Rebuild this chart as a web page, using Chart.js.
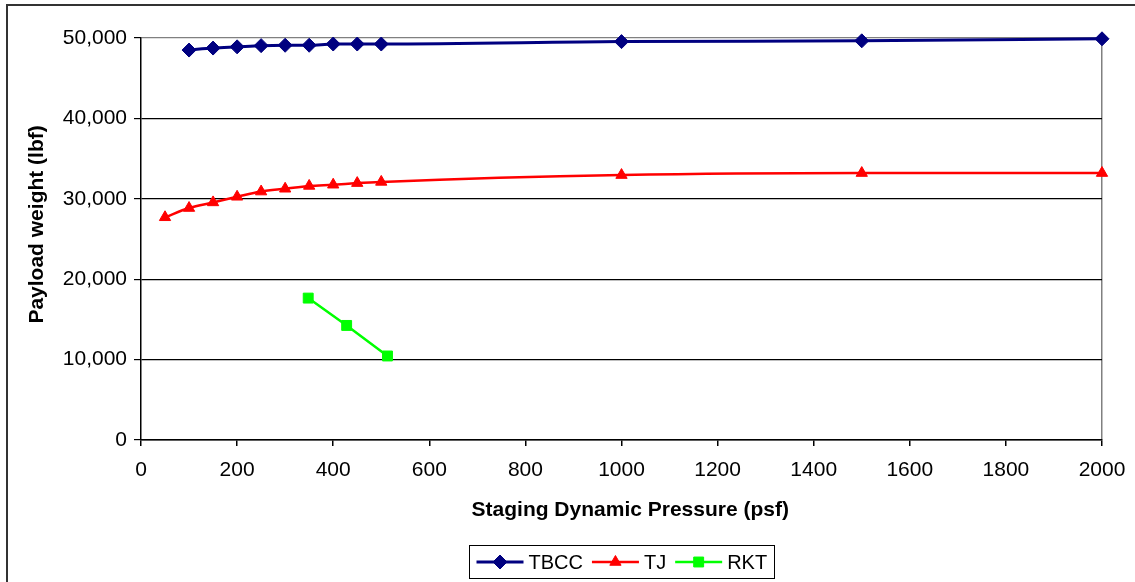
<!DOCTYPE html>
<html>
<head>
<meta charset="utf-8">
<script src="https://cdn.jsdelivr.net/npm/chart.js@4/dist/chart.umd.min.js"></script>
<style>
    html, body { margin: 0; padding: 0; background: #fff; }
    #wrap { position: relative; width: 1135px; height: 582px; }
</style>
</head>
<body>
<div id="wrap"><canvas id="payloadChart" width="1135" height="582"></canvas></div>
<script>
// Payload weight vs staging dynamic pressure
const tbccQ = [100, 150, 200, 250, 300, 350, 400, 450, 500, 1000, 1500, 2000];
const tbccW = [48500, 48750, 48900, 49050, 49100, 49100, 49250, 49250, 49250, 49550, 49650, 49900];

const tjQ = [50, 100, 150, 200, 250, 300, 350, 400, 450, 500, 1000, 1500, 2000];
const tjW = [27700, 28850, 29550, 30250, 30900, 31250, 31600, 31750, 31950, 32100, 32950, 33200, 33200];

const rktQ = [348, 428, 513];
const rktW = [17650, 14250, 10450];

const seriesNames = ['TBCC', 'TJ', 'RKT'];
const xTickValues = [0, 200, 400, 600, 800, 1000, 1200, 1400, 1600, 1800, 2000];
const yTickValues = [0, 10000, 20000, 30000, 40000, 50000];

const FONT = '"Liberation Sans", Arial, sans-serif';
Chart.defaults.font.family = FONT;
Chart.defaults.color = '#000';

const toPoints = (xs, ys) => xs.map((x, i) => ({ x, y: ys[i] }));

// outer frame of the chart object
const framePlugin = {
    id: 'frame',
    beforeDraw(chart) {
        const ctx = chart.ctx;
        ctx.save();
        ctx.fillStyle = '#fff';
        ctx.fillRect(0, 0, chart.width, chart.height);
        ctx.fillStyle = '#333';
        ctx.fillRect(6, 4, chart.width - 6, 2);
        ctx.fillRect(6, 4, 2, chart.height - 4);
        ctx.restore();
    }
};

// boxed legend under the axis title, line + marker per series
const boxLegend = {
    id: 'boxLegend',
    afterDraw(chart) {
        const ctx = chart.ctx;
        const area = chart.chartArea;
        ctx.save();
        ctx.font = '20px ' + FONT;
        const items = chart.data.datasets.map(ds => ({ ds, w: ctx.measureText(ds.label).width }));
        const lineLen = 47, gapText = 5, gapItem = 9, pad = 7;
        const total = pad * 2 + items.reduce((s, it) => s + lineLen + gapText + it.w, 0) + gapItem * (items.length - 1);
        const left = Math.round((area.left + area.right) / 2 - total / 2) + 0.5;
        const top = 545.5, h = 33;
        ctx.strokeStyle = '#000';
        ctx.lineWidth = 1;
        ctx.strokeRect(left, top, Math.round(total), h);

        let x = left + pad;
        const cy = top + h / 2;
        items.forEach(it => {
            const ds = it.ds;
            ctx.strokeStyle = ds.borderColor;
            ctx.lineWidth = ds.borderWidth;
            ctx.beginPath();
            ctx.moveTo(x, cy);
            ctx.lineTo(x + lineLen, cy);
            ctx.stroke();
            ctx.fillStyle = ds.pointBackgroundColor;
            ctx.strokeStyle = ds.pointBorderColor;
            ctx.lineWidth = 1;
            Chart.helpers.drawPoint(ctx, { pointStyle: ds.pointStyle, radius: ds.pointRadius, borderWidth: 1, rotation: 0 }, x + lineLen / 2, cy);
            ctx.fillStyle = '#000';
            ctx.textBaseline = 'middle';
            ctx.textAlign = 'left';
            ctx.fillText(ds.label, x + lineLen + gapText, cy + 1);
            x += lineLen + gapText + it.w + gapItem;
        });
        ctx.restore();
    }
};

new Chart(document.getElementById('payloadChart').getContext('2d'), {
    type: 'line',
    data: {
        datasets: [
            {
                label: seriesNames[0],
                data: toPoints(tbccQ, tbccW),
                borderColor: '#000080',
                backgroundColor: '#000080',
                borderWidth: 3,
                pointStyle: 'rectRot',
                pointRadius: 7,
                pointBackgroundColor: '#000080',
                pointBorderColor: '#000080',
                pointBorderWidth: 1,
                cubicInterpolationMode: 'monotone',
                fill: false,
                clip: false
            },
            {
                label: seriesNames[1],
                data: toPoints(tjQ, tjW),
                borderColor: '#ff0000',
                backgroundColor: '#ff0000',
                borderWidth: 2.5,
                pointStyle: 'triangle',
                pointRadius: 6.5,
                pointBackgroundColor: '#ff0000',
                pointBorderColor: '#ff0000',
                pointBorderWidth: 1,
                cubicInterpolationMode: 'monotone',
                fill: false,
                clip: false
            },
            {
                label: seriesNames[2],
                data: toPoints(rktQ, rktW),
                borderColor: '#00ff00',
                backgroundColor: '#00ff00',
                borderWidth: 2.5,
                pointStyle: 'rect',
                pointRadius: 7,
                pointBackgroundColor: '#00ff00',
                pointBorderColor: '#00ff00',
                pointBorderWidth: 1,
                tension: 0,
                fill: false,
                clip: false
            }
        ]
    },
    options: {
        responsive: false,
        animation: false,
        events: [],
        layout: { padding: { left: 0, top: 38, right: 33, bottom: 52 } },
        plugins: {
            legend: { display: false },
            tooltip: { enabled: false }
        },
        scales: {
            x: {
                type: 'linear',
                min: 0,
                max: 2000,
                afterBuildTicks: axis => { axis.ticks = xTickValues.map(v => ({ value: v })); },
                afterFit: scale => {
                    scale.height = 90;
                    scale.paddingLeft = 0;
                    scale.paddingRight = 0;
                },
                border: { color: '#000', width: 1.5 },
                grid: {
                    color: c => (c.tick && c.tick.value === 2000 ? '#808080' : 'rgba(0,0,0,0)'),
                    tickColor: '#000',
                    tickLength: 6,
                    lineWidth: 1.5
                },
                ticks: {
                    padding: 12,
                    font: { size: 21 },
                    callback: v => String(v)
                },
                title: {
                    display: true,
                    // leading spaces nudge the title right, as in the original
                    text: '   Staging Dynamic Pressure (psf)',
                    font: { size: 21, weight: 'bold' },
                    padding: { top: 0, bottom: 7 }
                }
            },
            y: {
                min: 0,
                max: 50000,
                afterBuildTicks: axis => { axis.ticks = yTickValues.map(v => ({ value: v })); },
                afterFit: scale => { scale.width = 141; },
                border: { color: '#000', width: 1.5 },
                grid: {
                    color: c => (c.tick && c.tick.value === 50000 ? '#808080' : '#000'),
                    tickColor: '#000',
                    tickLength: 7,
                    lineWidth: 1.2
                },
                ticks: {
                    padding: 7,
                    font: { size: 21 },
                    callback: v => v.toLocaleString('en-US')
                },
                title: {
                    display: true,
                    // leading spaces lift the rotated title a little, as in the original
                    text: '     Payload weight (lbf)',
                    font: { size: 21, weight: 'bold' },
                    padding: { top: 25, bottom: 0 }
                }
            }
        }
    },
    plugins: [framePlugin, boxLegend]
});
</script>
</body>
</html>
